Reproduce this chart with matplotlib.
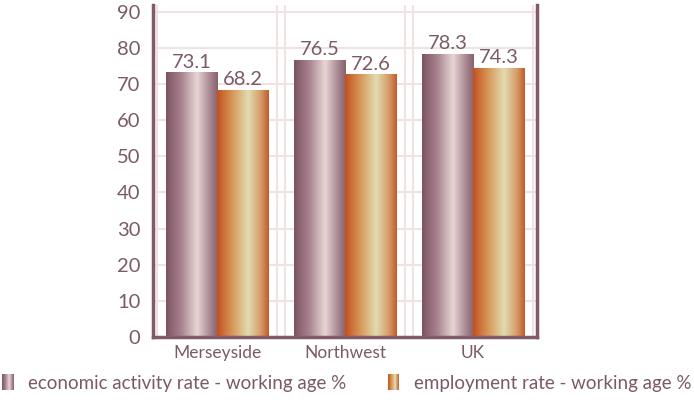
import numpy as np
import matplotlib
matplotlib.use("Agg")
import matplotlib.pyplot as plt
from matplotlib.colors import LinearSegmentedColormap
from matplotlib.legend_handler import HandlerBase
from matplotlib.patches import Rectangle

plt.rcParams['font.family'] = ['Lato', 'DejaVu Sans']

regions = ['Merseyside', 'Northwest', 'UK']
activity = [73.1, 76.5, 78.3]
employment = [68.2, 72.6, 74.3]
series_names = ['economic activity rate - working age %', 'employment rate - working age %']
yticks = [0, 10, 20, 30, 40, 50, 60, 70, 80, 90]

txt = '#7a5a68'
axis_col = '#835a6a'
grid_col = '#f0e2e2'

purple_cm = LinearSegmentedColormap.from_list(
    'purp', [(0, '#7c5262'), (0.3, '#a88590'), (0.6, '#e8d6d4'), (0.85, '#a88892'), (1, '#86606e')])
orange_cm = LinearSegmentedColormap.from_list(
    'oran', [(0, '#c4501e'), (0.3, '#d8985a'), (0.6, '#e2dcb0'), (0.85, '#d69a68'), (1, '#c25a2a')])
grad = np.linspace(0, 1, 256).reshape(1, -1)


class GradHandler(HandlerBase):
    def __init__(self, cmap):
        super().__init__()
        self.cmap = cmap

    def create_artists(self, legend, orig, xd, yd, w, h, fontsize, trans):
        n = 12
        arts = []
        for i in range(n):
            r = Rectangle((xd + i * w / n, yd - 0.1 * h), w / n + 0.05, h * 1.25,
                          facecolor=self.cmap((i + 0.5) / n), edgecolor='none', transform=trans)
            arts.append(r)
        return arts


fig = plt.figure(figsize=(6.94, 4.03), dpi=100)
ax = fig.add_axes([0.2205, 0.1638, 0.5533, 0.8238])

x = np.arange(len(regions))
w = 0.4
b1 = ax.bar(x - w / 2, activity, w, color='none', zorder=3)
b2 = ax.bar(x + w / 2, employment, w, color='none', zorder=3)

for bars, cm in ((b1, purple_cm), (b2, orange_cm)):
    for p in bars:
        x0, h = p.get_x(), p.get_height()
        ax.imshow(grad, cmap=cm, aspect='auto', extent=[x0, x0 + p.get_width(), 0, h],
                  zorder=3, interpolation='bicubic')

for p, v in zip(b1, activity):
    ax.text(p.get_x() + p.get_width() / 2, v + 0.6, f'{v}', ha='center', va='bottom',
            color=txt, fontsize=14.5, zorder=4)
for p, v in zip(b2, employment):
    ax.text(p.get_x() + p.get_width() / 2, v + 0.6, f'{v}', ha='center', va='bottom',
            color=txt, fontsize=14.5, zorder=4)

ax.set_xlim(-0.5, 2.5)
ax.set_ylim(0, 91.9)
ax.set_yticks(yticks)
ax.set_xticks(x)
ax.set_xticklabels(regions)
ax.tick_params(axis='x', length=0, colors=txt, labelsize=12.5, pad=6)
ax.tick_params(axis='y', length=0, colors=txt, labelsize=14.5, pad=9)

for yv in yticks[1:]:
    ax.axhline(yv, color=grid_col, lw=1.5, zorder=1)
for xv in (-0.47, 0.47, 0.53, 1.47, 1.53, 2.47):
    ax.axvline(xv, color=grid_col, lw=1.5, zorder=1)

ax.spines['top'].set_visible(False)
for s in ('left', 'bottom', 'right'):
    ax.spines[s].set_color(axis_col)
    ax.spines[s].set_linewidth(2.5)
    ax.spines[s].set_zorder(5)

h1 = Rectangle((0, 0), 1, 1)
h2 = Rectangle((0, 0), 1, 1)
leg = fig.legend([h1, h2], series_names, loc='lower center', bbox_to_anchor=(0.5, -0.015),
                 ncol=2, frameon=False, fontsize=13.5, handlelength=0.6, handletextpad=0.8,
                 columnspacing=2.2,
                 handler_map={h1: GradHandler(purple_cm), h2: GradHandler(orange_cm)})
for t in leg.get_texts():
    t.set_color(txt)

fig.savefig('out.png', dpi=100)
